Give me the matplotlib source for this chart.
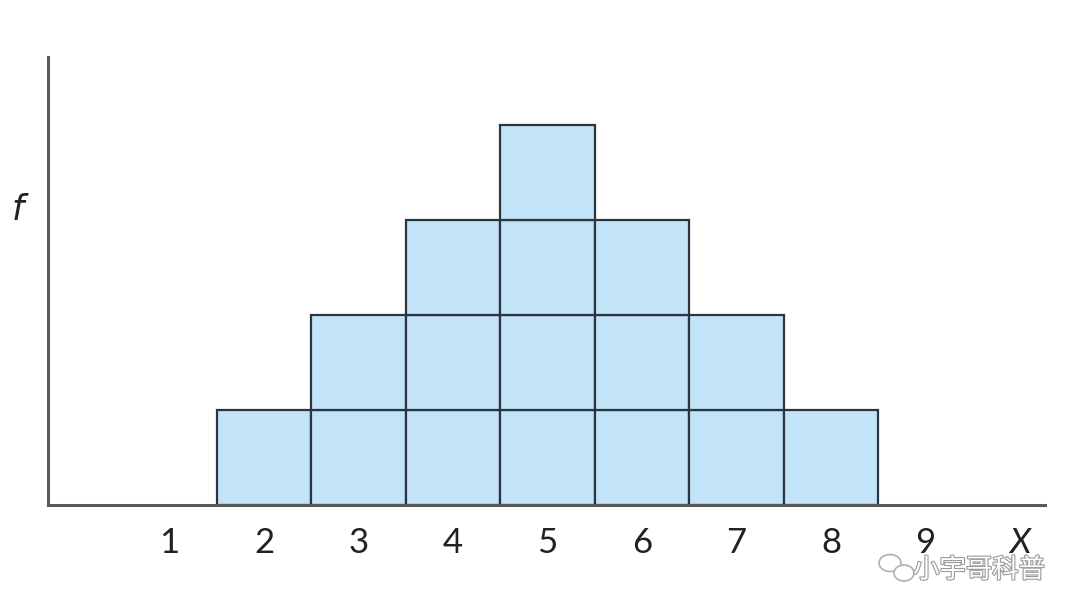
import matplotlib
matplotlib.use("Agg")
import matplotlib.pyplot as plt
from matplotlib.patches import Rectangle, Ellipse
import matplotlib.patheffects as pe

# Data: number of scores at each X value
x_values = [2, 3, 4, 5, 6, 7, 8]
frequencies = [1, 2, 3, 4, 3, 2, 1]
tick_positions = [1, 2, 3, 4, 5, 6, 7, 8, 9, 10]
tick_labels = ["1", "2", "3", "4", "5", "6", "7", "8", "9", "X"]

fig = plt.figure(figsize=(10.8, 6.16), dpi=100)
W, H = 1080, 616
ax = fig.add_axes([48 / W, (H - 505) / H, (1045 - 48) / W, (505 - 57) / H])

fill = "#c3e3f8"
edge = "#2a3540"
for xv, fv in zip(x_values, frequencies):
    for k in range(fv):
        ax.add_patch(Rectangle((xv - 0.5, k), 1, 1, facecolor=fill,
                               edgecolor=edge, linewidth=1.6, zorder=2))

ax.set_xlim(-0.286, 10.265)
ax.set_ylim(0, 4.716)
for s in ["top", "right"]:
    ax.spines[s].set_visible(False)
for s in ["left", "bottom"]:
    ax.spines[s].set_color("#5a5a5a")
    ax.spines[s].set_linewidth(2.2)
    ax.spines[s].set_zorder(3)

ax.set_yticks([])
ax.set_xticks(tick_positions)
ax.set_xticklabels(tick_labels, fontsize=25, family="Lato", color="#222222")
ax.tick_params(axis="x", length=0, pad=16)
ax.get_xticklabels()[-1].set_style("italic")

fig.text(18 / W, 1 - 210 / H, "f", fontsize=25, style="italic",
         family="DejaVu Sans", color="#222222", ha="center", va="center")

# watermark
fig.text(1045 / W, 1 - 570 / H, "小宇哥科普", fontsize=19,
         family=["Noto Sans CJK SC", "DejaVu Sans"], color="white",
         ha="right", va="center",
         path_effects=[pe.withStroke(linewidth=1.6, foreground="#9a9a9a")])
fig.patches.append(Ellipse((890 / W, 1 - 563 / H), 22 / W, 17 / H,
                           transform=fig.transFigure, fill=False,
                           edgecolor="#b0b0b0", linewidth=1.2))
fig.patches.append(Ellipse((904 / W, 1 - 573 / H), 20 / W, 16 / H,
                           transform=fig.transFigure, facecolor="white",
                           edgecolor="#b0b0b0", linewidth=1.2))

fig.savefig("out.png", dpi=100, facecolor="white")
